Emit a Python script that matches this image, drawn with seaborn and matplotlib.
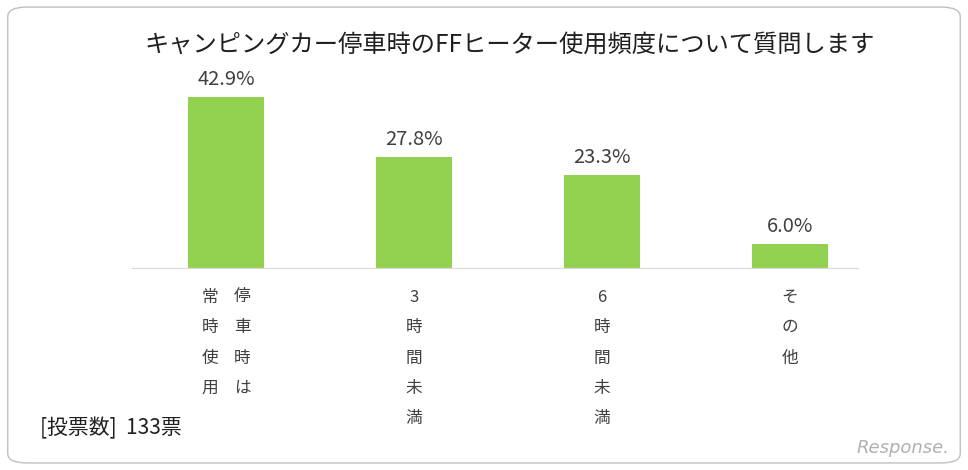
import matplotlib.pyplot as plt
import seaborn as sns
import pandas as pd
from matplotlib.patches import FancyBboxPatch

plt.rcParams['font.family'] = ['Noto Sans CJK JP']

title = 'キャンピングカー停車時のFFヒーター使用頻度について質問します'
categories = ['停車時は常時使用', '3時間未満', '6時間未満', 'その他']
# vertical label columns, right to left
label_columns = [['停車時は', '常時使用'], ['3時間未満'], ['6時間未満'], ['その他']]
values = [42.9, 27.8, 23.3, 6.0]
votes_note = '[投票数]  133票'

df = pd.DataFrame({'cat': categories, 'val': values})

fig = plt.figure(figsize=(9.68, 4.70), dpi=100)
fig.patches.append(FancyBboxPatch((0.008, 0.015), 0.984, 0.97, boxstyle='round,pad=0,rounding_size=0.02',
                                  transform=fig.transFigure, fill=False, edgecolor='#bfbfbf', linewidth=1))
ax = fig.add_axes([132 / 968, (470 - 268) / 470, 752 / 968, 208 / 470])
sns.barplot(data=df, x='cat', y='val', color='#92D050', width=0.4, saturation=1, ax=ax)
ax.set_ylim(0, 52.2)
ax.set_xlim(-0.5, 3.5)
for s in ['top', 'right', 'left']:
    ax.spines[s].set_visible(False)
ax.spines['bottom'].set_color('#d9d9d9')
ax.spines['bottom'].set_bounds(-0.5, 3.36)
ax.set_yticks([])
ax.set_xticks([])
ax.set_xlabel('')
ax.set_ylabel('')

for i, v in enumerate(values):
    ax.annotate(f'{v:.1f}%', xy=(i, v), xytext=(0, 7), textcoords='offset pixels',
                ha='center', va='bottom', fontsize=14.5, color='#404040')

for i, cols in enumerate(label_columns):
    n = len(cols)
    for c, col in enumerate(cols):
        dx = (n - 1) * 16 - c * 32
        for k, ch in enumerate(col):
            ax.annotate(ch, xy=(i, 0), xycoords=('data', 'axes fraction'),
                        xytext=(dx, -29 - k * 30.5), textcoords='offset pixels',
                        ha='center', va='center', fontsize=12, color='#404040')

fig.text(510 / 968, 1 - 45 / 470, title, ha='center', va='center', fontsize=17.5, color='#202020')
fig.text(40 / 968, 1 - 428 / 470, votes_note, ha='left', va='center', fontsize=15, color='#202020')
fig.text(950 / 968, 1 - 448 / 470, 'Response.', ha='right', va='center', fontsize=13,
         color='#b0b0b0', style='italic', fontfamily='DejaVu Sans')

fig.savefig('out.png', dpi=100)
